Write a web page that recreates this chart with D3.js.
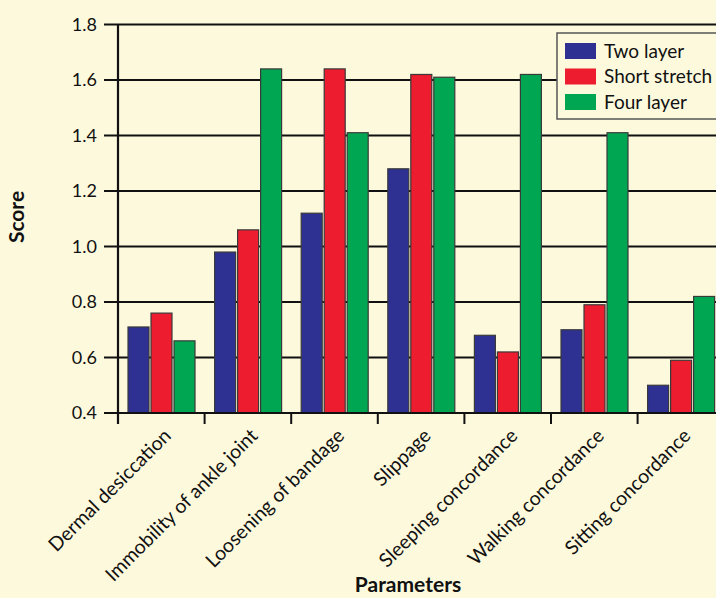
<!DOCTYPE html>
<meta charset="utf-8">
<style>
  body { margin: 0; background: #fdf9dd; }
  svg { display: block; font-family: Lato, "Open Sans", sans-serif; }
</style>
<svg width="716" height="598"></svg>
<script src="https://d3js.org/d3.v7.min.js"></script>
<script>

// Categories along the x axis
var categories = ["Dermal desiccation", "Immobility of ankle joint", "Loosening of bandage",
  "Slippage", "Sleeping concordance", "Walking concordance", "Sitting concordance"];

// Series names and colours
var series = ["Two layer", "Short stretch", "Four layer"];
var colors = ["#2e3192", "#ed1c2e", "#00a651"];

// Scores, one array per series
var twoLayer     = [0.71, 0.98, 1.12, 1.28, 0.68, 0.70, 0.50];
var shortStretch = [0.76, 1.06, 1.64, 1.62, 0.62, 0.79, 0.59];
var fourLayer    = [0.66, 1.64, 1.41, 1.61, 1.62, 1.41, 0.82];

var yTicks = [0.4, 0.6, 0.8, 1.0, 1.2, 1.4, 1.6, 1.8];

var values = [twoLayer, shortStretch, fourLayer];

var svg = d3.select("svg"),
    width = +svg.attr("width"),
    height = +svg.attr("height");

var plotLeft = 118, plotTop = 24.5, plotBottom = 413;

// plot runs past the right edge of the picture, the last band is cut off
var x = d3.scaleBand()
    .domain(categories)
    .range([plotLeft, plotLeft + 7 * 86.6]);

var inner = d3.scaleBand()
    .domain(series)
    .range([10, 77])
    .paddingInner(0.087);

var y = d3.scaleLinear()
    .domain([0.4, 1.8])
    .range([plotBottom, plotTop]);

svg.append("rect")
    .attr("width", width)
    .attr("height", height)
    .attr("fill", "#fdf9dd");

// horizontal grid lines with left tick marks
svg.append("g")
  .selectAll("line")
  .data(yTicks)
  .enter().append("line")
    .attr("x1", plotLeft - 14)
    .attr("x2", width)
    .attr("y1", function(d) { return y(d); })
    .attr("y2", function(d) { return y(d); })
    .attr("stroke", "#111")
    .attr("stroke-width", 1.8);

svg.append("g")
  .selectAll("text")
  .data(yTicks)
  .enter().append("text")
    .attr("x", plotLeft - 21)
    .attr("y", function(d) { return y(d); })
    .attr("dy", "0.35em")
    .attr("text-anchor", "end")
    .attr("font-size", 18)
    .attr("fill", "#111")
    .text(function(d) { return d3.format(".1f")(d); });

// bars
var groups = svg.append("g")
  .selectAll("g")
  .data(categories)
  .enter().append("g")
    .attr("transform", function(d) { return "translate(" + x(d) + ",0)"; });

groups.selectAll("rect")
  .data(function(d, i) {
    return series.map(function(s, k) { return { key: s, k: k, value: values[k][i] }; });
  })
  .enter().append("rect")
    .attr("x", function(d) { return inner(d.key); })
    .attr("y", function(d) { return y(d.value); })
    .attr("width", inner.bandwidth())
    .attr("height", function(d) { return plotBottom - y(d.value); })
    .attr("fill", function(d) { return colors[d.k]; })
    .attr("stroke", "#3a3a3a")
    .attr("stroke-width", 1.2);

// axes lines
svg.append("line")
    .attr("x1", plotLeft).attr("x2", plotLeft)
    .attr("y1", plotTop).attr("y2", plotBottom + 11)
    .attr("stroke", "#111").attr("stroke-width", 2.2);

svg.append("line")
    .attr("x1", plotLeft).attr("x2", width)
    .attr("y1", plotBottom).attr("y2", plotBottom)
    .attr("stroke", "#111").attr("stroke-width", 2.2);

// x tick marks at band edges
svg.append("g")
  .selectAll("line")
  .data(categories)
  .enter().append("line")
    .attr("x1", function(d) { return x(d) + x.bandwidth(); })
    .attr("x2", function(d) { return x(d) + x.bandwidth(); })
    .attr("y1", plotBottom)
    .attr("y2", plotBottom + 11)
    .attr("stroke", "#111")
    .attr("stroke-width", 2);

// rotated category labels
svg.append("g")
  .selectAll("text")
  .data(categories)
  .enter().append("text")
    .attr("transform", function(d) {
      return "translate(" + (x(d) + x.bandwidth() / 2 + 11) + "," + (plotBottom + 24) + ") rotate(-45)";
    })
    .attr("text-anchor", "end")
    .attr("font-size", 19.5)
    .attr("fill", "#111")
    .text(function(d) { return d; });

// axis titles
svg.append("text")
    .attr("x", 408)
    .attr("y", 592)
    .attr("text-anchor", "middle")
    .attr("font-size", 21)
    .attr("font-weight", "bold")
    .attr("fill", "#111")
    .text("Parameters");

svg.append("text")
    .attr("transform", "translate(24,217) rotate(-90)")
    .attr("text-anchor", "middle")
    .attr("font-size", 21)
    .attr("font-weight", "bold")
    .attr("fill", "#111")
    .text("Score");

// legend
var legend = svg.append("g").attr("transform", "translate(557,33)");

legend.append("rect")
    .attr("width", 200)
    .attr("height", 86)
    .attr("fill", "#fdf9dd")
    .attr("stroke", "#555")
    .attr("stroke-width", 1.5);

var item = legend.selectAll("g")
  .data(series)
  .enter().append("g")
    .attr("transform", function(d, i) { return "translate(8," + (10 + i * 25.5) + ")"; });

item.append("rect")
    .attr("width", 31)
    .attr("height", 16)
    .attr("fill", function(d, i) { return colors[i]; });

item.append("text")
    .attr("x", 39)
    .attr("y", 8)
    .attr("dy", "0.35em")
    .attr("font-size", 19)
    .attr("fill", "#111")
    .text(function(d) { return d; });

</script>
